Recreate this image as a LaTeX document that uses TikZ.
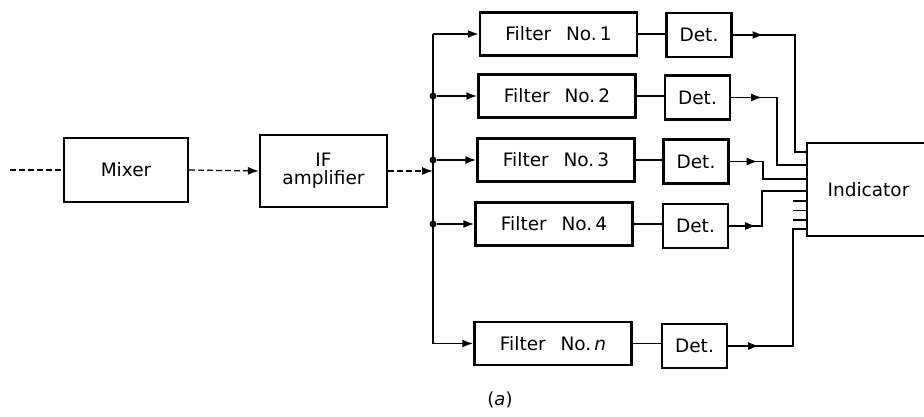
\documentclass[tikz,border=0pt]{standalone}
\usepackage{fontspec}
\setmainfont{DejaVu Sans}
\usetikzlibrary{arrows.meta,decorations.markings,calc}
\begin{document}
\begin{tikzpicture}[x=1pt,y=-1pt,
  blk/.style={draw,line width=2.4pt,rectangle,inner sep=0pt,font=\fontsize{18.5}{20}\selectfont,align=center},
  fbox/.style={blk,minimum width=157pt,minimum height=43pt},
  dbox/.style={blk,minimum width=65pt,minimum height=44pt},
  conn/.style={line width=1.8pt},
  tip/.style={-{Latex[length=11pt,width=8pt]}},
  outp/.style={conn,decoration={markings,mark=at position #1 with {\arrow{Latex[length=11pt,width=8pt]}}},postaction={decorate}},
  outp/.default=31pt,
  faint/.style={line width=1.2pt,dash pattern=on 6pt off 3pt},
  dot/.style={circle,fill,inner sep=0pt,minimum size=7pt}]
\useasboundingbox (0,0) rectangle (924,416);
% blocks
\node[blk,minimum width=124pt,minimum height=64pt] (mix) at (126,170) {Mixer};
\node[blk,minimum width=127pt,minimum height=72pt] (ifa) at (323.5,171) {IF\\[-2pt]amplifier};
\node[fbox] (f1) at (558.5,34) {Filter\hspace{0.8em}No.\,1};
\node[fbox] (f2) at (557,96) {Filter\hspace{0.8em}No.\,2};
\node[fbox] (f3) at (556,160) {Filter\hspace{0.8em}No.\,3};
\node[fbox] (f4) at (554,224) {Filter\hspace{0.8em}No.\,4};
\node[fbox] (fn) at (553,343.5) {Filter\hspace{0.8em}No.\,\textit{n}};
\node[dbox] (d1) at (699,35) {Det.};
\node[dbox] (d2) at (697.5,97.5) {Det.};
\node[dbox] (d3) at (696,161.5) {Det.};
\node[dbox] (d4) at (695.5,226) {Det.};
\node[dbox] (dn) at (694.5,346) {Det.};
\node[blk,minimum width=123pt,minimum height=93pt] (ind) at (868.5,189.5) {Indicator};
\node[font=\fontsize{18}{20}\selectfont] (cap) at (500,400) {(\textit{a})};
% input chain
\coordinate (src) at (10,170);
\draw[faint] (src) -- (mix.west);
\draw[faint,tip] (mix.east) -- (ifa.west);
% bus
\coordinate (btop) at (433,34);
\coordinate (bbot) at (433,343.5);
\coordinate (bin) at (433,171);
\draw[faint,tip] (ifa.east) -- (bin);
\draw[conn] (btop) -- (bbot);
\node[dot] (b2) at (433,96) {};
\node[dot] (b3) at (433,160) {};
\node[dot] (b4) at (433,224) {};
\draw[conn,tip] (btop) -- (f1.west);
\draw[conn,tip] (b2) -- (f2.west);
\draw[conn,tip] (b3) -- (f3.west);
\draw[conn,tip] (b4) -- (f4.west);
\draw[conn,tip] (bbot) -- (fn.west);
% filters to detectors
\draw[conn] (f1.east) -- (f1.east -| d1.west);
\draw[conn] (f2.east) -- (f2.east -| d2.west);
\draw[conn] (f3.east) -- (f3.east -| d3.west);
\draw[conn] (f4.east) -- (f4.east -| d4.west);
\draw[conn] (fn.east) -- (fn.east -| dn.west);
% detectors to indicator
\coordinate (i1) at (807,152);
\coordinate (i2) at (807,165);
\coordinate (i3) at (807,179);
\coordinate (i4) at (807,191);
\coordinate (i5) at (807,229);
\draw[outp] (d1.east) -- (795,35) |- (i1);
\draw[outp] (d2.east) -- (777,97.5) |- (i2);
\draw[outp=28pt] (d3.east) -- (763,161.5) |- (i3);
\draw[outp=27pt] (d4.east) -- (762,226) |- (i4);
\draw[outp] (dn.east) -- (793,346) |- (i5);
\coordinate (s1) at (807,201);
\coordinate (s2) at (807,210.5);
\coordinate (s3) at (807,220);
\draw[conn] (s1) -- ++(-14,0);
\draw[conn] (s2) -- ++(-14,0);
\draw[conn] (s3) -- ++(-14,0);
\end{tikzpicture}
\end{document}
